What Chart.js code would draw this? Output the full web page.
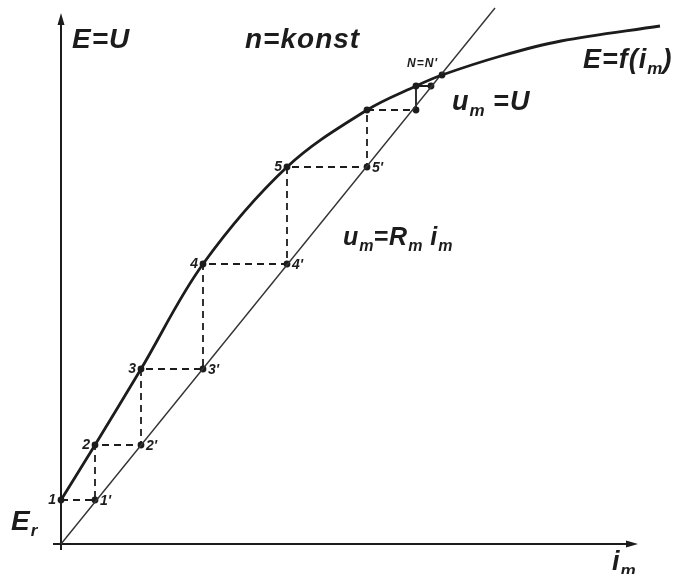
<!DOCTYPE html>
<html><head><meta charset="utf-8">
<script src="https://cdn.jsdelivr.net/npm/chart.js@4/dist/chart.umd.min.js"></script>
<style>html,body{margin:0;padding:0;background:#fff}#wrap{width:691px;height:574px}</style>
</head><body><div id="wrap"><canvas id="c" width="691" height="574"></canvas></div>
<script>
// Magnetization curve E = f(i_m)
const curveIm = [0, 34, 80, 142, 226, 306, 355, 381, 440, 500, 599];
const curveE  = [44, 99, 175, 280, 377, 434, 458, 469, 488, 503, 518];
// Field-circuit resistance line u_m = R_m i_m
const lineIm = [0, 434];
const lineU  = [0, 536];
// Self-excitation staircase
const stepIm = [0, 34, 80, 142, 226, 306, 355, 370];
const stepE  = [44, 99, 175, 280, 377, 434, 458];
const curveLabels = ['1', '2', '3', '4', '5'];
const lineLabels  = ["1'", "2'", "3'", "4'", "5'"];
const pointN = [381, 469];
const axisMax = { x: 577, y: 531 };

const INK = '#1c1c1c';
const FONT = "'Liberation Sans', Arial, sans-serif";

const stairs = [];
for (let k = 0; k < stepE.length; k++) {
  stairs.push({ x: stepIm[k], y: stepE[k] });
  stairs.push({ x: stepIm[k + 1], y: stepE[k] });
}
const dots = [];
for (let k = 0; k < stepE.length; k++) {
  dots.push({ x: stepIm[k], y: stepE[k] });
  dots.push({ x: stepIm[k + 1], y: stepE[k] });
}
dots.push({ x: pointN[0], y: pointN[1] });

// text annotations (data coordinates)
const texts = [
  { at: [11, 496], size: 28, parts: [['E=U']] },
  { at: [184, 496], size: 28, parts: [['n=konst']] },
  { at: [522, 476], size: 27, parts: [['E=f('], ['i'], ['m', 1], [')']] },
  { at: [391, 434], size: 27, parts: [['u'], ['m', 1], [' =U']] },
  { at: [282, 299], size: 25, parts: [['u'], ['m', 1], ['=R'], ['m', 1], [' i'], ['m', 1]] },
  { at: [-50, 14], size: 28, parts: [['E'], ['r', 1]] },
  { at: [551, -26], size: 27, parts: [['i'], ['m', 1]] },
  { at: [346, 477], size: 12, parts: [["N=N'"]] }
];

function drawParts(ctx, x, y, size, parts) {
  let cx = x;
  for (const [t, sub] of parts) {
    const s = sub ? Math.round(size * 0.62) : size;
    ctx.font = `italic bold ${s}px ${FONT}`;
    ctx.letterSpacing = sub ? '0px' : '1px';
    const dy = sub ? size * 0.22 : 0;
    ctx.fillText(t, cx, y + dy);
    cx += ctx.measureText(t).width;
  }
  ctx.letterSpacing = '0px';
}

const decor = {
  id: 'decor',
  beforeDatasetsDraw(chart) {
    const { ctx, scales: { x, y } } = chart;
    ctx.save();
    ctx.strokeStyle = INK; ctx.fillStyle = INK; ctx.lineWidth = 2;
    const x0 = x.getPixelForValue(0), y0 = y.getPixelForValue(0);
    const xe = x.getPixelForValue(axisMax.x), ye = y.getPixelForValue(axisMax.y);
    ctx.beginPath();
    ctx.moveTo(x0 - 8, y0); ctx.lineTo(xe - 6, y0);
    ctx.moveTo(x0, y0 + 6); ctx.lineTo(x0, ye + 6);
    ctx.stroke();
    ctx.beginPath();
    ctx.moveTo(xe, y0); ctx.lineTo(xe - 12, y0 - 3.5); ctx.lineTo(xe - 12, y0 + 3.5); ctx.closePath();
    ctx.moveTo(x0, ye); ctx.lineTo(x0 - 3.5, ye + 12); ctx.lineTo(x0 + 3.5, ye + 12); ctx.closePath();
    ctx.fill();
    ctx.restore();
  },
  afterDraw(chart) {
    const { ctx, scales: { x, y } } = chart;
    ctx.save();
    ctx.fillStyle = INK;
    ctx.textBaseline = 'alphabetic';
    for (const t of texts) {
      drawParts(ctx, x.getPixelForValue(t.at[0]), y.getPixelForValue(t.at[1]), t.size, t.parts);
    }
    ctx.font = `italic bold 14px ${FONT}`;
    ctx.textBaseline = 'middle';
    curveLabels.forEach((lab, k) => {
      ctx.textAlign = 'right';
      ctx.fillText(lab, x.getPixelForValue(stepIm[k]) - 5, y.getPixelForValue(stepE[k]));
    });
    lineLabels.forEach((lab, k) => {
      ctx.textAlign = 'left';
      ctx.fillText(lab, x.getPixelForValue(stepIm[k + 1]) + 5, y.getPixelForValue(stepE[k]) + 1);
    });
    ctx.restore();
  }
};

new Chart(document.getElementById('c'), {
  type: 'scatter',
  data: {
    datasets: [
      {
        data: curveIm.map((v, i) => ({ x: v, y: curveE[i] })),
        showLine: true, borderColor: INK, borderWidth: 2.8, pointRadius: 0,
        tension: 0.35, clip: false
      },
      {
        data: lineIm.map((v, i) => ({ x: v, y: lineU[i] })),
        showLine: true, borderColor: '#333', borderWidth: 1.4, pointRadius: 0, clip: false
      },
      {
        data: stairs,
        showLine: true, borderColor: INK, borderWidth: 1.8, pointRadius: 0, clip: false,
        borderDash: [7, 5],
        segment: { borderDash: c => (c.p0DataIndex >= 11 ? [] : [7, 5]) }
      },
      {
        data: dots,
        showLine: false, pointRadius: 3.4, pointBackgroundColor: INK, pointBorderColor: INK,
        pointBorderWidth: 0, clip: false
      }
    ]
  },
  options: {
    responsive: false,
    animation: false,
    events: [],
    layout: { padding: { left: 61, right: 30, top: 4, bottom: 30 } },
    plugins: { legend: { display: false }, tooltip: { enabled: false } },
    scales: {
      x: { type: 'linear', min: 0, max: 600, display: false },
      y: { type: 'linear', min: 0, max: 540, display: false }
    }
  },
  plugins: [decor]
});
</script>
</body></html>
